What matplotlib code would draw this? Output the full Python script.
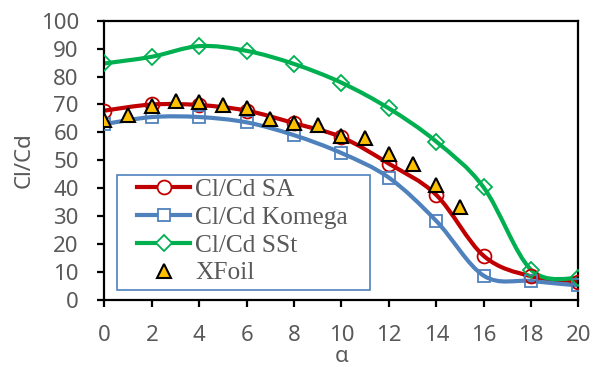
import numpy as np
import matplotlib
matplotlib.use("Agg")
import matplotlib.pyplot as plt
from matplotlib.path import Path
from matplotlib.patches import PathPatch, Rectangle
from matplotlib.lines import Line2D

# angle of attack (deg) and lift/drag ratio per model
alpha = [0, 2, 4, 6, 8, 10, 12, 14, 16, 18, 20]
cl_cd_sa = [67.8, 70.0, 69.8, 67.8, 63.3, 58.3, 48.8, 37.6, 15.8, 8.5, 6.6]
cl_cd_komega = [63.0, 65.5, 65.5, 63.6, 59.0, 52.6, 43.8, 28.3, 8.7, 6.8, 5.2]
cl_cd_sst = [84.7, 87.1, 90.9, 89.2, 84.5, 77.8, 68.6, 56.7, 40.3, 10.8, 7.8]

alpha_xfoil = [0, 1, 2, 3, 4, 5, 6, 7, 8, 9, 10, 11, 12, 13, 14, 15]
cl_cd_xfoil = [64.4, 66.2, 69.5, 71.4, 71.0, 69.8, 68.6, 64.7, 63.5, 62.7,
               58.6, 57.9, 52.4, 48.7, 41.2, 33.2]

RED = "#C00000"
BLUE = "#4F81BD"
GREEN = "#00B050"
GOLD = "#FFC000"
GREY = "#595959"
SANS = "Noto Sans"
W, H = 595, 367


def smooth_path(x, y):
    # cubic bezier through the points, tangents from neighbours (1/6 rule)
    pts = np.column_stack([x, y]).astype(float)
    n = len(pts)
    verts = [pts[0]]
    codes = [Path.MOVETO]
    for i in range(n - 1):
        p_prev = pts[max(i - 1, 0)]
        p0 = pts[i]
        p1 = pts[i + 1]
        p_next = pts[min(i + 2, n - 1)]
        c1 = p0 + (p1 - p_prev) / 6.0
        c2 = p1 - (p_next - p0) / 6.0
        verts += [c1, c2, p1]
        codes += [Path.CURVE4] * 3
    return Path(verts, codes)


fig = plt.figure(figsize=(W / 100, H / 100), dpi=100)
ax = fig.add_axes([104.5 / W, 1 - 300 / H, 474 / W, 279.3 / H])

series = [
    (cl_cd_sa, RED, "o", 10, "Cl/Cd SA"),
    (cl_cd_komega, BLUE, "s", 9, "Cl/Cd Komega"),
    (cl_cd_sst, GREEN, "D", 8, "Cl/Cd SSt"),
]
handles = []
for vals, col, mk, ms, lab in series:
    ax.add_patch(PathPatch(smooth_path(alpha, vals), facecolor="none",
                           edgecolor=col, lw=3, capstyle="round", zorder=2))
    ax.plot(alpha, vals, ls="none", marker=mk, ms=ms, mfc="none",
            mec=col, mew=1.3, zorder=3)
    handles.append(Line2D([], [], color=col, lw=3, marker=mk, ms=ms,
                          mfc="white", mec=col, mew=1.3, label=lab))

ax.plot(alpha_xfoil, cl_cd_xfoil, ls="none", marker="^", ms=10, mfc=GOLD,
        mec="black", mew=1.5, zorder=4)
handles.append(Line2D([], [], ls="none", marker="^", ms=10, mfc=GOLD,
                      mec="black", mew=1.5, label="XFoil"))

ax.set_xlim(0, 20)
ax.set_ylim(0, 100)
ax.set_xticks(range(0, 21, 2))
ax.set_yticks(range(0, 101, 10))

for side in ["left", "bottom", "top", "right"]:
    ax.spines[side].set_linewidth(1.6)
    ax.spines[side].set_color("black")
ax.tick_params(direction="out", length=5, width=1.6, colors="black",
               labelcolor=GREY, labelsize=16)
ax.tick_params(axis="x", pad=13)
ax.tick_params(axis="y", pad=13.5)
for lbl in ax.get_xticklabels() + ax.get_yticklabels():
    lbl.set_family(SANS)

ax.set_xlabel("α", fontsize=16, color=GREY, family=SANS, labelpad=0)
ax.set_ylabel("Cl/Cd", fontsize=16, color=GREY, family=SANS, labelpad=4)

# legend frame drawn separately so it can be wider than its entries
fig.add_artist(Rectangle((116.7 / W, 1 - 290 / H), 253.3 / W, 115 / H,
                         transform=fig.transFigure, facecolor="white",
                         edgecolor=BLUE, lw=1.2, zorder=4))
leg = fig.legend(handles=handles, loc="upper left",
                 bbox_to_anchor=(137 / W, 1 - 178 / H),
                 prop={"family": "Liberation Serif", "size": 18.3},
                 handlelength=2.1, handletextpad=0.2, labelspacing=0.2,
                 borderpad=0, borderaxespad=0, frameon=False)
leg.set_zorder(5)
for t in leg.get_texts():
    t.set_color(GREY)

fig.savefig("out.png", dpi=100)
